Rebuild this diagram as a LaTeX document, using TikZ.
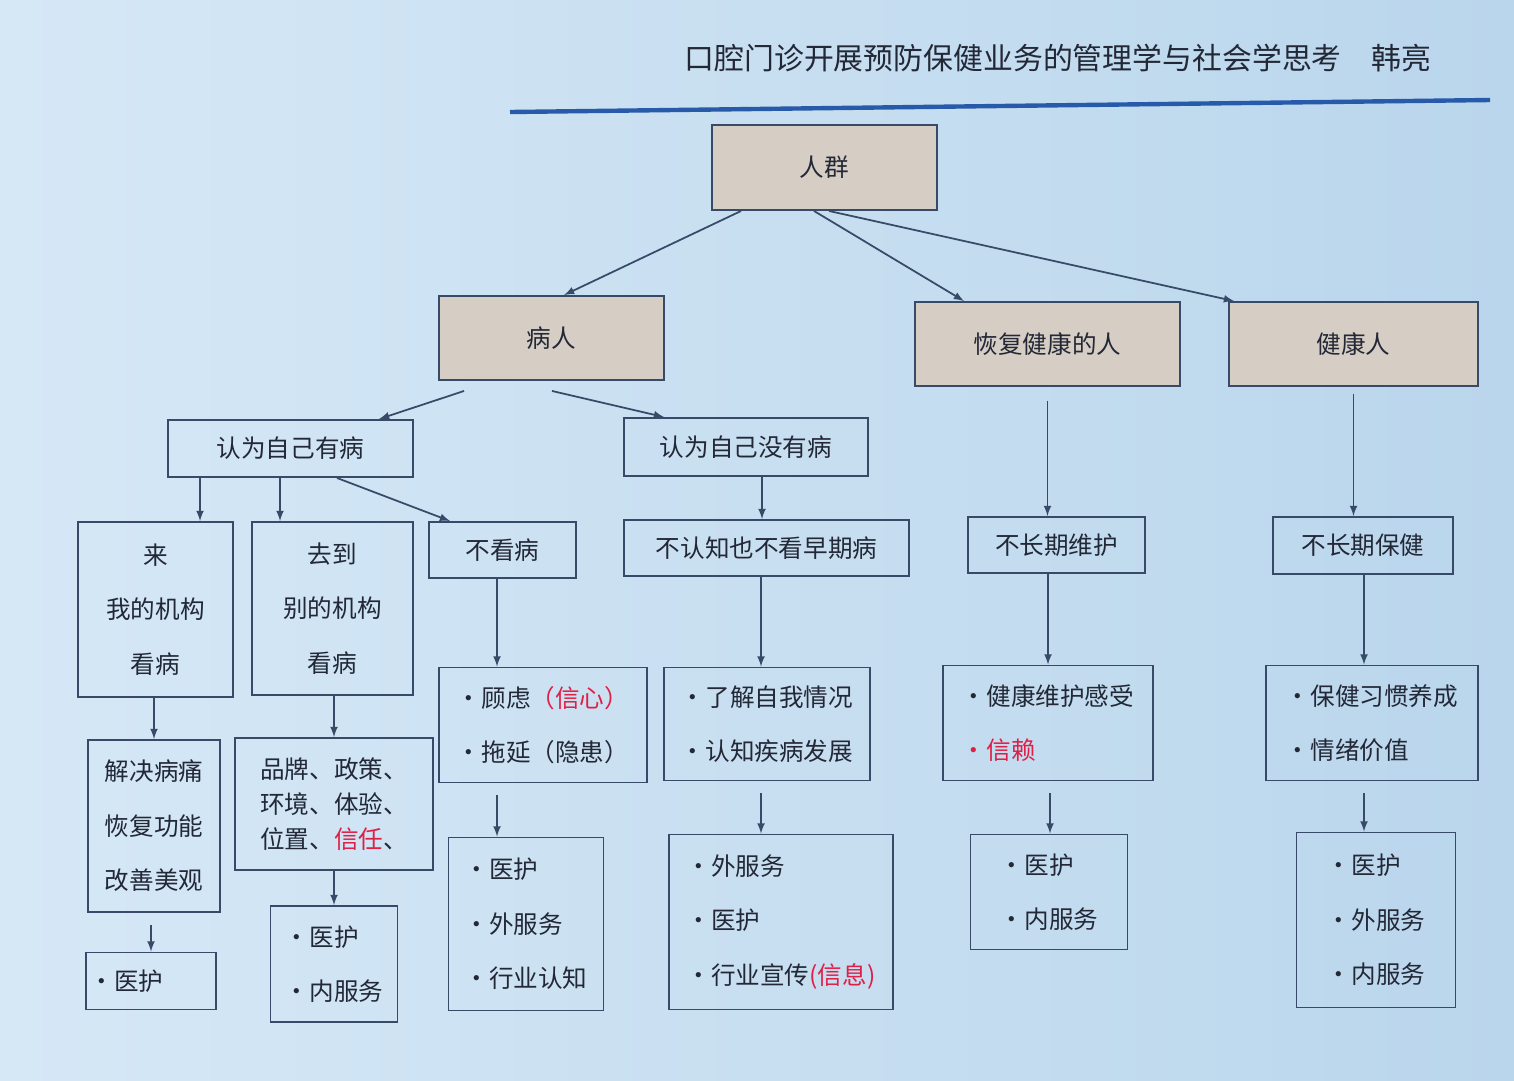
\documentclass[tikz,border=0pt]{standalone}
\usepackage{fontspec}
\setmainfont{Noto Sans CJK SC}
\definecolor{bgA}{RGB}{214,232,246}
\definecolor{bgB}{RGB}{186,214,236}
\definecolor{edge}{RGB}{55,75,105}
\definecolor{tan}{RGB}{214,205,196}
\definecolor{redt}{RGB}{225,30,70}
\definecolor{line}{RGB}{40,90,170}
\definecolor{txt}{RGB}{35,40,55}
\newcommand{\bx}[6]{\node[box,minimum width={(#4-#2)*0.02cm},minimum height={(#5-#3)*0.02cm}] (#1) at ({(#2+#4)/2},{(#3+#5)/2}) {#6};}
\newcommand{\tb}[6]{\node[box,fill=tan,minimum width={(#4-#2)*0.02cm},minimum height={(#5-#3)*0.02cm}] (#1) at ({(#2+#4)/2},{(#3+#5)/2}) {#6};}
\begin{document}
\begin{tikzpicture}[x=0.02cm,y=-0.02cm,
  box/.style={draw=edge,line width=1.1pt,inner sep=2pt,align=center,text=txt,font=\fontsize{14}{31}\selectfont},
  arr/.style={-latex,draw=edge,line width=1pt}]
\shade[left color=bgA,right color=bgB] (0,0) rectangle (1514,1080);
\useasboundingbox (0,0) rectangle (1514,1080);
\node[text=txt,font=\fontsize{17}{20}\selectfont] (title) at (1058,58) {口腔门诊开展预防保健业务的管理学与社会学思考\quad 韩亮};
\coordinate (la) at (510,112); \coordinate (lb) at (1490,100);
\draw[line,line width=2.5pt] (la) -- (lb);
\tb{rq}{712}{125}{937}{210}{人群}
\tb{br}{439}{296}{664}{380}{病人}
\tb{hf}{915}{302}{1180}{386}{恢复健康的人}
\tb{jk}{1229}{302}{1478}{386}{健康人}
\bx{yb}{168}{420}{413}{477}{认为自己有病}
\bx{mb}{624}{418}{868}{476}{认为自己没有病}
\bx{lai}{78}{522}{233}{697}{来\\我的机构\\看病}
\bx{qd}{252}{522}{413}{695}{去到\\别的机构\\看病}
\bx{bk}{429}{522}{576}{578}{不看病}
\bx{brz}{624}{520}{909}{576}{不认知也不看早期病}
\bx{bw}{968}{517}{1145}{573}{不长期维护}
\bx{bb}{1273}{517}{1453}{574}{不长期保健}
\bx{jj}{88}{740}{220}{912}{解决病痛\\恢复功能\\改善美观}
\node[box,align=left,font=\fontsize{14}{20}\selectfont,minimum width={198*0.02cm},minimum height={132*0.02cm}] (pp) at (334,804) {品牌、政策、\\环境、体验、\\位置、\textcolor{redt}{信任}、};
\node[box,align=left,minimum width={208*0.02cm},minimum height={115*0.02cm}] (gl) at (543,725) {•顾虑\textcolor{redt}{（信心）}\\•拖延（隐患）};
\node[box,align=left,minimum width={206*0.02cm},minimum height={113*0.02cm}] (lj) at (767,724) {•了解自我情况\\•认知疾病发展};
\node[box,align=left,minimum width={210*0.02cm},minimum height={115*0.02cm}] (jw) at (1048,723) {•健康维护感受\quad\\\textcolor{redt}{•信赖}};
\node[box,align=left,minimum width={212*0.02cm},minimum height={115*0.02cm}] (bj) at (1372,723) {•保健习惯养成\\•情绪价值};
\node[box,align=left,minimum width={125*0.02cm},minimum height={57*0.02cm}] (y1) at (151,981) {•医护\qquad};
\node[box,align=left,minimum width={127*0.02cm},minimum height={116*0.02cm}] (y2) at (334,964) {•医护\\•内服务};
\node[box,align=left,minimum width={155*0.02cm},minimum height={173*0.02cm}] (y3) at (526,924) {•医护\\•外服务\\•行业认知};
\node[box,align=left,minimum width={224*0.02cm},minimum height={175*0.02cm}] (y4) at (781,922) {•外服务\\•医护\\•行业宣传\textcolor{redt}{(信息)}};
\node[box,align=left,minimum width={157*0.02cm},minimum height={115*0.02cm}] (y5) at (1049,892) {•医护\quad\\•内服务};
\node[box,align=left,minimum width={159*0.02cm},minimum height={175*0.02cm}] (y6) at (1376,920) {•医护\\•外服务\\•内服务};
% arrows
\draw[arr] ([xshift={30*0.02cm}]rq.south west) -- ([xshift={126*0.02cm}]br.north west);
\draw[arr] ([xshift={103*0.02cm}]rq.south west) -- ([xshift={50*0.02cm}]hf.north west);
\draw[arr] ([xshift={118*0.02cm}]rq.south west) -- ([xshift={6*0.02cm}]jk.north west);
\draw[arr] ([xshift={26*0.02cm},yshift={-10*0.02cm}]br.south west) -- ([xshift={212*0.02cm}]yb.north west);
\draw[arr] ([xshift={114*0.02cm},yshift={-10*0.02cm}]br.south west) -- ([xshift={41*0.02cm}]mb.north west);
\draw[arr] (200,477) coordinate (a1) -- (lai.north -| a1);
\draw[arr] (280,477) coordinate (a2) -- (qd.north -| a2);
\draw[arr] ([xshift={170*0.02cm}]yb.south west) -- ([xshift={22*0.02cm}]bk.north west);
\draw[arr] (762,476) coordinate (a0) -- (brz.north -| a0);
\draw[arr] ([yshift={-14*0.02cm}]hf.south) -- (hf.south |- bw.north);
\draw[arr] ([yshift={-7*0.02cm}]jk.south) -- (jk.south |- bb.north);
\draw[arr] (lai.south -| jj.north) -- (jj.north);
\draw[arr] (qd.south -| pp.north) -- (pp.north);
\draw[arr] (497,578) coordinate (a3) -- (gl.north -| a3);
\draw[arr] (761,576) coordinate (a4) -- (lj.north -| a4);
\draw[arr] (1048,573) coordinate (a5) -- (jw.north -| a5);
\draw[arr] (1364,574) coordinate (a6) -- (bj.north -| a6);
\draw[arr] ([yshift={-12*0.02cm}]jj.south -| y1.north) -- (y1.north);
\draw[arr] (pp.south -| y2.north) -- (y2.north);
\draw[arr] ([yshift={-12*0.02cm}]gl.south -| 497,0) coordinate (a7) -- (y3.north -| a7);
\draw[arr] ([yshift={-12*0.02cm}]lj.south -| 761,0) coordinate (a8) -- (y4.north -| a8);
\draw[arr] ([yshift={-12*0.02cm}]jw.south -| 1050,0) coordinate (a9) -- (y5.north -| a9);
\draw[arr] ([yshift={-12*0.02cm}]bj.south -| 1364,0) coordinate (a10) -- (y6.north -| a10);
\end{tikzpicture}
\end{document}
